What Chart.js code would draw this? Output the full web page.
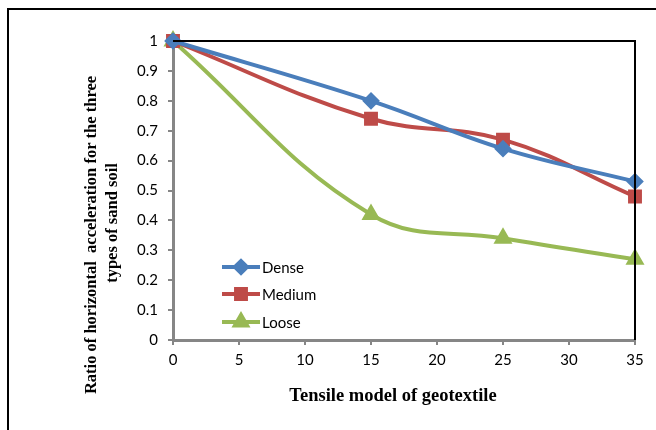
<!DOCTYPE html>
<html>
<head>
<meta charset="utf-8">
<script src="https://cdn.jsdelivr.net/npm/chart.js@4.4.1/dist/chart.umd.min.js"></script>
<style>
  html, body { margin: 0; padding: 0; background: #fff; }
  #wrap { width: 656px; height: 430px; position: relative; }
</style>
</head>
<body>
<div id="wrap"><canvas id="chart" width="656" height="430"></canvas></div>
<script>
// Data
const tensile = [0, 15, 25, 35];
const dense = [1, 0.8, 0.64, 0.53];
const medium = [1, 0.74, 0.67, 0.48];
const loose = [1, 0.42, 0.34, 0.27];
const seriesNames = ["Dense", "Medium", "Loose"];

const xTitle = "Tensile model of geotextile";
const yTitle = ["Ratio of horizontal  acceleration for the three", "types of sand soil"];

const toPoints = (vals) => vals.map((v, i) => ({ x: tensile[i], y: v }));

// frame, plot border, axis titles and legend drawn by hand
const extras = {
  id: "extras",
  afterDraw(chart) {
    const { ctx, chartArea: a } = chart;
    ctx.save();
    // outer frame (only top and left are inside the picture)
    ctx.strokeStyle = "#000";
    ctx.lineWidth = 2;
    ctx.beginPath();
    ctx.moveTo(8, 440);
    ctx.lineTo(8, 9);
    ctx.lineTo(660, 9);
    ctx.stroke();

    // top & right border of the plot area
    ctx.lineWidth = 2;
    ctx.beginPath();
    ctx.moveTo(a.left, a.top);
    ctx.lineTo(a.right, a.top);
    ctx.lineTo(a.right, a.bottom);
    ctx.stroke();

    // x title
    ctx.fillStyle = "#000";
    ctx.font = "bold 18.5px 'Liberation Serif'";
    ctx.textAlign = "center";
    ctx.textBaseline = "middle";
    ctx.fillText(xTitle, 393, 396);

    // y title, two lines
    ctx.font = "bold 16.5px 'Liberation Serif'";
    ctx.save();
    ctx.translate(92, 235);
    ctx.rotate(-Math.PI / 2);
    ctx.fillText(yTitle[0], 0, 0);
    ctx.restore();
    ctx.save();
    ctx.translate(113, 223);
    ctx.rotate(-Math.PI / 2);
    ctx.fillText(yTitle[1], 0, 0);
    ctx.restore();

    // legend
    const lx = 222, ly = [267, 294, 322];
    chart.data.datasets.forEach((ds, i) => {
      const y = ly[i];
      ctx.strokeStyle = ds.borderColor;
      ctx.lineWidth = 4;
      ctx.beginPath();
      ctx.moveTo(lx, y);
      ctx.lineTo(lx + 38, y);
      ctx.stroke();
      Chart.helpers.drawPoint(ctx, {
        pointStyle: ds.pointStyle,
        radius: ds.pointRadius,
        rotation: 0,
        borderWidth: 1
      }, lx + 19, y);
      ctx.fillStyle = ds.pointBackgroundColor;
      ctx.fill();
      ctx.fillStyle = "#000";
      ctx.font = "15px Lato";
      ctx.textAlign = "left";
      ctx.fillText(ds.label, lx + 40, y + 1);
    });
    ctx.restore();
  }
};

const colors = ["#4a7ebb", "#be4b48", "#98b954"];
const styles = ["rectRot", "rect", "triangle"];
const radii = [6, 7, 7];
const values = [dense, medium, loose];

new Chart(document.getElementById("chart"), {
  type: "line",
  data: {
    datasets: values.map((vals, i) => ({
      label: seriesNames[i],
      data: toPoints(vals),
      borderColor: colors[i],
      backgroundColor: colors[i],
      pointBackgroundColor: colors[i],
      pointBorderColor: colors[i],
      pointStyle: styles[i],
      pointRadius: radii[i],
      borderWidth: 4,
      tension: 0.4,
      fill: false,
      clip: false
    }))
  },
  options: {
    responsive: false,
    animation: false,
    layout: { padding: { top: 41, right: 21, left: 0, bottom: 0 } },
    plugins: {
      legend: { display: false },
      tooltip: { enabled: false }
    },
    scales: {
      x: {
        type: "linear",
        min: 0,
        max: 35,
        ticks: { stepSize: 5, color: "#000", font: { family: "Lato", size: 15 }, padding: 6, maxRotation: 0 },
        grid: { drawOnChartArea: false, color: "#868686", tickLength: 5, lineWidth: 2 },
        border: { color: "#868686", width: 3 },
        afterFit: (s) => { s.height = 90; }
      },
      y: {
        min: 0,
        max: 1,
        ticks: {
          stepSize: 0.1, color: "#000", font: { family: "Lato", size: 15 }, padding: 10,
          callback: (v) => String(Math.round(v * 10) / 10)
        },
        grid: { drawOnChartArea: false, color: "#868686", tickLength: 5, lineWidth: 2 },
        border: { color: "#868686", width: 3 },
        afterFit: (s) => { s.width = 173; }
      }
    }
  },
  plugins: [extras]
});
</script>
</body>
</html>
